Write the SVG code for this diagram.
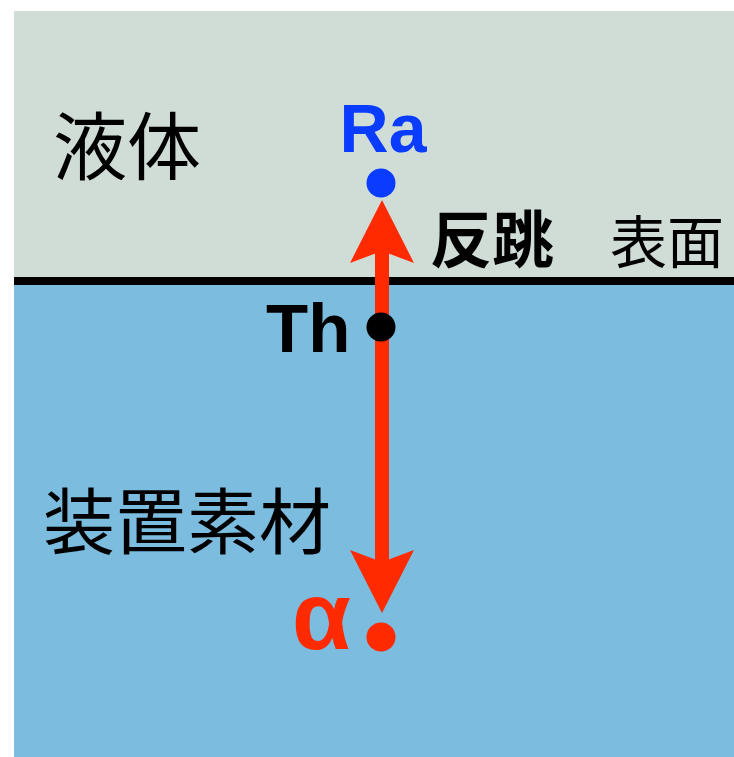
<svg xmlns="http://www.w3.org/2000/svg" width="734" height="757" viewBox="0 0 734 757">
  <style>
    .cjk { font-family: "Noto Sans CJK JP", "Noto Sans CJK SC", sans-serif; fill: #000; }
    .lat { font-family: "Liberation Sans", Arial, sans-serif; font-weight: bold; }
    .shaft { stroke: #ff2a00; stroke-width: 14; fill: none; }
  </style>
  <defs>
    <marker id="head" viewBox="0 0 64 64" refX="12" refY="32" markerWidth="64" markerHeight="64" markerUnits="userSpaceOnUse" orient="auto-start-reverse">
      <path d="M0,0 L63,32 L0,64 L12,32 Z" fill="#ff2a00"/>
    </marker>
  </defs>
  <rect width="734" height="757" fill="#ffffff"/>
  <g id="liquid">
    <rect x="14" y="11" width="720" height="270" fill="#d0ddd7"/>
    <text class="cjk" x="53" y="174" font-size="74">液体</text>
  </g>
  <g id="material">
    <rect x="14" y="281" width="720" height="476" fill="#7bbcdf"/>
    <text class="cjk" x="43" y="548" font-size="72">装置素材</text>
  </g>
  <g id="surface">
    <line x1="14" y1="281" x2="734" y2="281" stroke="#000" stroke-width="8"/>
    <text class="cjk" x="610" y="263" font-size="57">表面</text>
  </g>
  <g id="connectors">
    <line class="shaft" x1="382" y1="251" x2="382" y2="562" marker-start="url(#head)" marker-end="url(#head)"/>
    <text class="cjk" x="430" y="263" font-size="62" font-weight="bold">反跳</text>
  </g>
  <g id="ra">
    <circle cx="381" cy="183" r="14.5" fill="#0a3cff"/>
    <text class="lat" x="383" y="152" font-size="68" text-anchor="middle" fill="#0a3cff">Ra</text>
  </g>
  <g id="th">
    <circle cx="381" cy="327" r="14.5" fill="#000"/>
    <text class="lat" x="266" y="352" font-size="69" fill="#000">Th</text>
  </g>
  <g id="alpha">
    <circle cx="381" cy="637" r="14.5" fill="#ff2a00"/>
    <text class="lat" x="292" y="649" font-size="96" fill="#ff2a00">α</text>
  </g>
</svg>
